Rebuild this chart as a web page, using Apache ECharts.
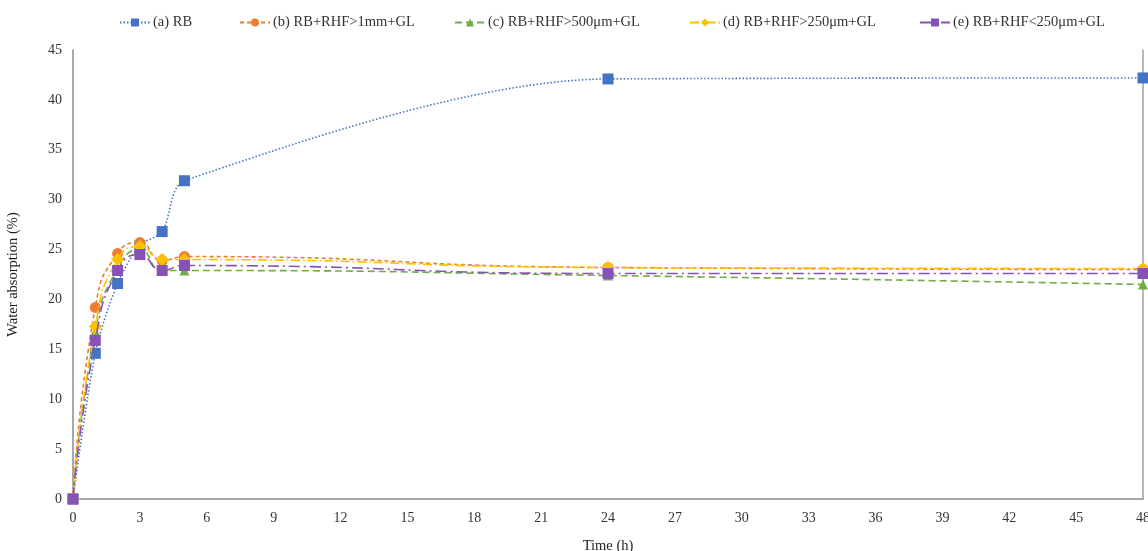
<!DOCTYPE html>
<html><head><meta charset="utf-8">
<script src="https://cdn.jsdelivr.net/npm/echarts@6/dist/echarts.min.js"></script>
<style>html,body{margin:0;padding:0;background:#fff;overflow:hidden}#c{width:1148px;height:551px}</style>
</head><body><div id="c"></div>
<script>
const times = [0, 1, 2, 3, 4, 5, 24, 48];
const seriesNames = ['(a) RB', '(b) RB+RHF>1mm+GL', '(c) RB+RHF>500μm+GL', '(d) RB+RHF>250μm+GL', '(e) RB+RHF<250μm+GL'];
const rbValues    = [0, 14.6, 21.6, 25.4, 26.8, 31.9, 42.1, 42.2];
const rhf1mm      = [0, 19.2, 24.6, 25.7, 23.9, 24.3, 23.2, 23.0];
const rhf500      = [0, 16.8, 23.1, 25.0, 22.9, 22.9, 22.4, 21.5];
const rhf250      = [0, 17.3, 24.0, 25.3, 24.0, 24.0, 23.2, 23.1];
const rhfLt250    = [0, 15.9, 22.9, 24.5, 22.9, 23.4, 22.6, 22.6];
const xTicks = [0, 3, 6, 9, 12, 15, 18, 21, 24, 27, 30, 33, 36, 39, 42, 45, 48];

const colors = ['#4472C4', '#ED7D31', '#70AD47', '#FFC000', '#8652B6'];
const dashes = [[1.5, 2], [4, 3], [7, 4], [9, 3, 1.5, 3], [11, 4, 2, 4]];
const symbols = ['rect', 'circle', 'triangle', 'diamond', 'rect'];
const symSizes = [11, 11, 10, 13, 11];
const smoothness = [0.3, 0.55, 0.55, 0.55, 0.55];
const allValues = [rbValues, rhf1mm, rhf500, rhf250, rhfLt250];
const legendLeft = [114, 234, 449, 684, 914];

const font = 'Liberation Serif';
const series = allValues.map((vals, i) => ({
  name: seriesNames[i],
  type: 'line',
  smooth: smoothness[i],
  data: times.map((t, k) => [t, vals[k]]),
  symbol: symbols[i],
  symbolSize: symSizes[i],
  itemStyle: { color: colors[i] },
  lineStyle: { color: colors[i], width: 1.6, type: dashes[i] },
  z: 2 + i
}));

const chart = echarts.init(document.getElementById('c'));
chart.setOption({
  animation: false,
  textStyle: { fontFamily: font },
  legend: seriesNames.map((n, i) => ({
    data: [n], left: legendLeft[i], top: 10, itemWidth: 30, itemHeight: 10, itemGap: 4,
    textStyle: { fontFamily: font, fontSize: 14.5, color: '#333', padding: [0, 0, 0, -2] }
  })),
  grid: { left: 73, right: 5, top: 50, bottom: 52, containLabel: false, outerBoundsMode: 'none' },
  xAxis: {
    type: 'value', min: 0, max: 48, interval: 3,
    name: 'Time (h)', nameLocation: 'middle', nameGap: 40,
    nameTextStyle: { fontFamily: font, fontSize: 14.5, color: '#222' },
    axisLine: { lineStyle: { color: '#8c8c8c', width: 1.5 } },
    axisTick: { show: false },
    splitLine: { show: false },
    axisLabel: { fontFamily: font, fontSize: 14, color: '#333', margin: 12,
      formatter: v => xTicks.includes(v) ? String(v) : '' }
  },
  yAxis: [{
    type: 'value', min: 0, max: 45, interval: 5,
    name: 'Water absorption (%)', nameLocation: 'middle', nameGap: 52, nameRotate: 90,
    nameTextStyle: { fontFamily: font, fontSize: 14.5, color: '#222' },
    axisLine: { show: true, lineStyle: { color: '#8c8c8c', width: 1.5 } },
    axisTick: { show: false },
    splitLine: { show: false },
    axisLabel: { fontFamily: font, fontSize: 14, color: '#333', margin: 11 }
  }, {
    type: 'value', min: 0, max: 45, interval: 5, position: 'right',
    axisLine: { show: true, lineStyle: { color: '#a0a0a0', width: 1.5 } },
    axisTick: { show: false }, axisLabel: { show: false }, splitLine: { show: false }
  }],
  series
});
</script></body></html>
